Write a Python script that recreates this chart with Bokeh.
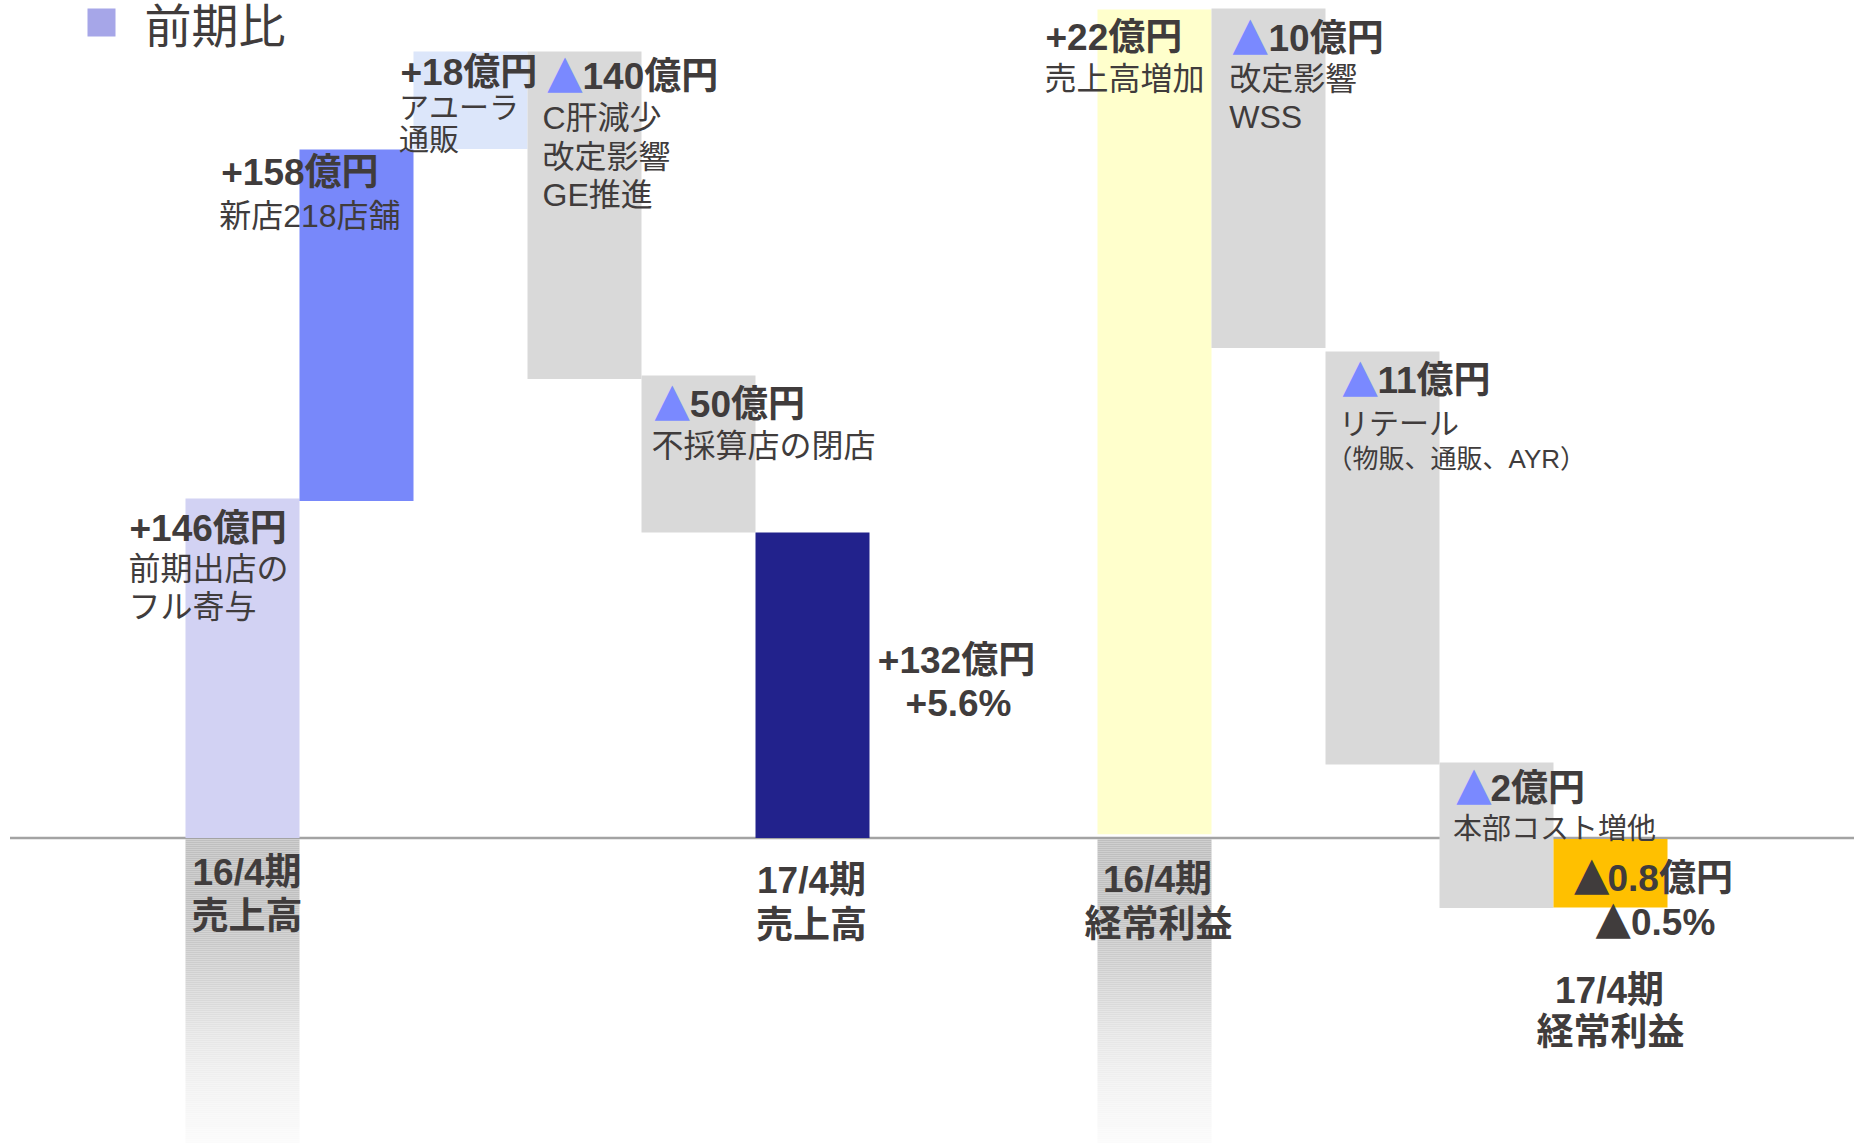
import numpy as np
from bokeh.plotting import figure
from bokeh.models import Range1d, ColumnDataSource
from bokeh.core.properties import value
from bokeh.embed import file_html
from bokeh.resources import INLINE

# ------------------------------------------------------------------ data
# waterfall steps (drawn extents in chart units above the 16/4 base line)
steps = ["前期出店のフル寄与", "新店218店舗", "アユーラ通販", "C肝減少・改定影響・GE推進",
         "不採算店の閉店", "17/4期売上高",
         "売上高増加", "改定影響・WSS", "リテール", "本部コスト増他", "17/4期経常利益"]
step_slot = [0, 1, 2, 3, 4, 5, 8, 9, 10, 11, 12]
step_bottom = [0, 337, 689, 459, 305.5, 0, 3.8, 490, 73.5, -70, -69.5]
step_top = [339.5, 688.5, 786.5, 786.5, 462.5, 305.5, 828.5, 829.5, 486.5, 75.5, -1]
amount_labels = ["+146億円", "+158億円", "+18億円", "140億円", "50億円", "+132億円",
                 "+22億円", "10億円", "11億円", "2億円", "0.8億円"]
base_categories = ["16/4期売上高", "16/4期経常利益"]
base_slot = [0, 8]
base_depth = [-305.5, -305.5]

# ------------------------------------------------------------------ styles
step_color = ["#D2D2F3", "#7888FA", "#DCE6FA", "#D9D9D9", "#D9D9D9", "#22228C",
              "#FFFFCC", "#D9D9D9", "#D9D9D9", "#D9D9D9", "#FFC000"]
TXT = "#403C3C"
TRI = "#7A89FF"
FONT = "Liberation Sans, Noto Sans CJK JP"
TRI_FONT = "DejaVu Sans"
K = 0.385  # baseline correction (fraction of font size)

# screen -> data helpers (slot width 114px, base line at 837.5px)
X0, SW, Y0 = 185.0, 114.0, 837.5
def dx(X):
    return (X - X0) / SW
def dy(Y):
    return Y0 - Y

W, H = 1854, 1143
p = figure(width=W, height=H,
           x_range=Range1d(dx(0), dx(W)), y_range=Range1d(dy(H), dy(0)),
           output_backend="svg", toolbar_location=None, min_border=0,
           x_axis_location=None, y_axis_location=None)
p.grid.visible = False
p.outline_line_color = None
p.background_fill_color = "white"
p.border_fill_color = "white"

# gradient base bars (below line)
stops_Y = [839, 900, 936, 970, 1003, 1036, 1070, 1103, 1143]
stops_g = [191, 192, 198, 208, 218, 230, 238, 245, 251]
gl, gr, gt, gb, gc = [], [], [], [], []
for s, d in zip(base_slot, base_depth):
    Ys = np.arange(839, Y0 - d, 2.0)
    for Y in Ys:
        g = int(round(np.interp(Y + 1, stops_Y, stops_g)))
        gl.append(s); gr.append(s + 1)
        gt.append(dy(Y)); gb.append(dy(Y + 2.05))
        gc.append("#%02x%02x%02x" % (g, g, g))
p.quad(left=gl, right=gr, top=gt, bottom=gb, fill_color=gc, line_color=None)

# base line (zero of the waterfall)
p.segment(x0=[dx(9.5)], y0=[0], x1=[dx(W)], y1=[0], line_color="#A3A3A3", line_width=2.5)

# waterfall bars
src = ColumnDataSource(dict(
    left=step_slot, right=[s + 1 for s in step_slot],
    top=step_top, bottom=step_bottom, color=step_color, name=steps))
p.quad(left="left", right="right", top="top", bottom="bottom",
       fill_color="color", line_color=None, source=src)

# legend square
p.quad(left=[dx(87)], right=[dx(115)], top=[dy(8)], bottom=[dy(36)],
       fill_color="#A6A6E8", line_color=None)


def add_text(items, size, bold, color, align, font=FONT, dY=0.0, dX=0.0):
    px = float(size)
    xs = [dx(i[1] + dX) for i in items]
    ys = [dy(i[2] + dY - K * px) for i in items]
    tx = [i[0] for i in items]
    p.text(x=xs, y=ys, text=tx, text_font=value(font),
           text_font_size=value("%gpx" % px), text_font_style="bold" if bold else "normal",
           text_color=color, text_align=align, text_baseline="alphabetic")


add_text([("前期比", 144, 44)], 47, False, TXT, "left")

# amount labels (left-aligned)
add_text([
    (amount_labels[0], 129, 541),
    (amount_labels[1], 220.7, 185),
    (amount_labels[2], 400, 85),
    (amount_labels[3], 582, 89),
    (amount_labels[4], 689.3, 417),
    (amount_labels[6], 1045, 50),
    (amount_labels[7], 1268, 50.7),
    (amount_labels[8], 1377, 393),
    (amount_labels[9], 1490, 800.5),
    (amount_labels[10], 1607, 891),
    ("0.5%", 1630.5, 934.5),
], 37, True, TXT, "left", dY=1.5)
# triangles
add_text([("▲", 546.7, 87), ("▲", 654, 415), ("▲", 1232, 48.7),
          ("▲", 1342, 391), ("▲", 1455.7, 798.5)], 46, False, TRI, "left", TRI_FONT, dY=1.5)
add_text([("▲", 1573.5, 889), ("▲", 1595, 932.5)], 46, False, TXT, "left", TRI_FONT, dY=1.5)
# centered totals
add_text([
    (amount_labels[5], 956, 673),
    ("+5.6%", 958, 716),
], 37, True, TXT, "center", dY=1.5)

# descriptions
add_text([
    ("前期出店の", 130, 578.5), ("フル寄与", 130, 616),
    ("新店218店舗", 220.7, 225.5),
    ("C肝減少", 544, 127.5), ("改定影響", 544, 166), ("GE推進", 544, 204.5),
    ("不採算店の閉店", 653, 455),
    ("売上高増加", 1046, 88),
    ("改定影響", 1230.7, 88.5), ("WSS", 1230.7, 126.5),
], 32, False, TXT, "left", dY=2.5, dX=-2)
add_text([
    ("アユーラ", 400, 116), ("通販", 400, 148),
    ("リテール", 1340, 432),
], 30, False, TXT, "left", dY=3, dX=-1.5)
add_text([("本部コスト増他", 1454, 837.5)], 29, False, TXT, "left", dY=2.5, dX=-1.5)
add_text([("（物販、通販、AYR）", 1326, 469)], 26, False, TXT, "left", dY=0)

# category labels
add_text([("16/4期", 192, 884), ("売上高", 191, 928)], 37, True, TXT, "left", dY=2)
add_text([
    ("17/4期", 811, 892), ("売上高", 811, 937),
    ("16/4期", 1157, 891), ("経常利益", 1158, 936),
    ("17/4期", 1609, 1002), ("経常利益", 1610, 1044),
], 37, True, TXT, "center", dY=2)

open("out.html", "w").write(file_html(p, INLINE))
